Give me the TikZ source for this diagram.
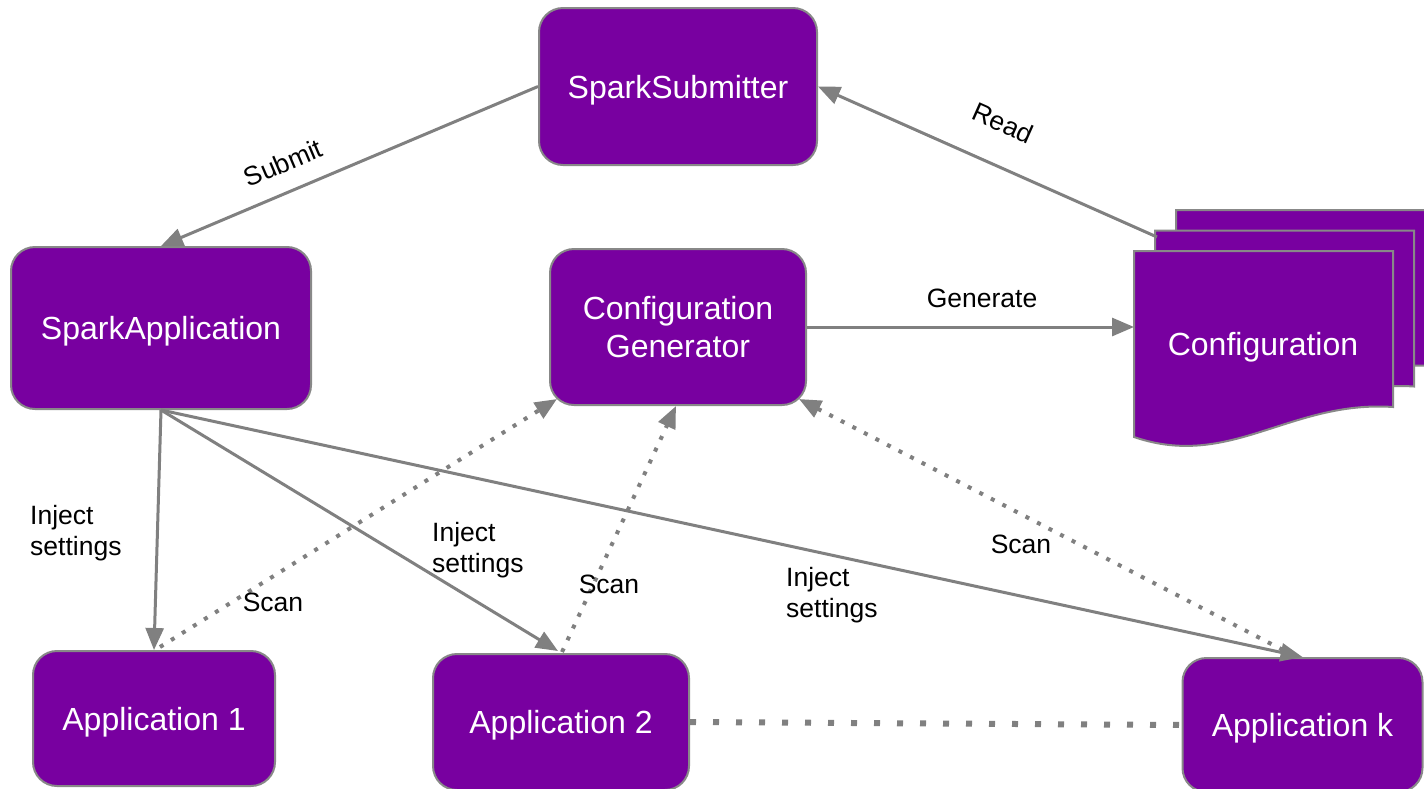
\documentclass[tikz,border=0pt]{standalone}
\usepackage{fontspec}
\setmainfont{Liberation Sans}
\usetikzlibrary{arrows.meta,calc}
\definecolor{pur}{RGB}{120,0,160}
\definecolor{edgegray}{RGB}{128,128,128}
\definecolor{bordergray}{RGB}{136,136,136}
\begin{document}
\begin{tikzpicture}[x=1pt,y=-1pt,
  box/.style={draw=bordergray, line width=2pt, fill=pur, rounded corners=24pt, text=white,
    font=\fontsize{32}{38}\selectfont, align=center, inner sep=0pt, text depth=0pt},
  docsheet/.style={draw=bordergray, line width=2pt, fill=pur},
  lbl/.style={font=\fontsize{26.5}{31}\selectfont, align=left, inner sep=0pt},
  conn/.style={draw=edgegray, line width=3pt, -{Triangle[length=22pt,width=18pt]}},
  scan/.style={draw=edgegray, line width=4pt, dash pattern=on 4pt off 9pt,
    -{Triangle[length=22pt,width=18pt]}},
  link/.style={draw=edgegray, line width=6pt, dash pattern=on 6pt off 17pt}
]
\useasboundingbox (0,0) rectangle (1424,788);
\fill[white] (0,0) rectangle (1424,788);

% Configuration document stack
\foreach \dx/\dy in {42/-41, 21/-20.5, 0/0}{
  \path[docsheet, shift={(\dx,\dy)}] (1134,251) -- (1393,251) -- (1393,407)
    .. controls (1290,400) and (1230,470) .. (1134,437) -- cycle;
}
\node[text=white, font=\fontsize{32}{38}\selectfont, inner sep=0pt, text depth=0pt] (cfg) at (1263,344) {Configuration};
\coordinate (cfgin) at (1134,327);
\coordinate (cfgout) at (1157,237);

% Boxes
\node[box, minimum width=278pt, minimum height=157pt] (ss) at (678,86.5) {SparkSubmitter};
\node[box, minimum width=300pt, minimum height=162pt] (sa) at (161,328) {SparkApplication};
\node[box, minimum width=256pt, minimum height=156pt] (cg) at (678,327) {Configuration\\Generator};
\node[box, minimum width=242pt, minimum height=135pt] (a1) at (154,718.5) {Application 1};
\node[box, minimum width=256pt, minimum height=136pt] (a2) at (561,722) {Application 2};
\node[box, minimum width=240pt, minimum height=134pt] (ak) at (1302.5,725) {Application k};

% Solid connectors
\draw[conn] (ss.west) -- (sa.north);
\draw[conn] (cfgout) -- (ss.east);
\draw[conn] (cg.east) -- (cfgin);
\draw[conn] (sa.south) -- (a1.north);
\draw[conn] (sa.south) -- ($(a2.north)+(-3,-2)$);
\draw[conn] (sa.south) -- (ak.north);

% Scan connectors
\draw[scan] ($(a1.north)+(6,-3)$) -- ($(cg.south west)+(8,-7)$);
\draw[scan] ($(a2.north)+(1,-1)$) -- ($(cg.south)+(-2,0)$);
\draw[scan] ($(ak.north)+(-8,-1)$) -- ($(cg.south east)+(-8,-7)$);

% Link between applications
\draw[link] (a2.east) -- (ak.west);

% Labels
\node[lbl, rotate=23] (lsub) at (283,163) {Submit};
\node[lbl, rotate=-24] (lread) at (1003,123) {Read};
\node[lbl] (lgen) at (982,298) {Generate};
\node[lbl, anchor=west] (linj1) at (30,533) {Inject\\settings};
\node[lbl, anchor=west] (linj2) at (432,550) {Inject\\settings};
\node[lbl, anchor=west] (linj3) at (786,595) {Inject\\settings};
\node[lbl] (lscan1) at (273,602) {Scan};
\node[lbl] (lscan2) at (609,584) {Scan};
\node[lbl] (lscan3) at (1021,544) {Scan};
\end{tikzpicture}
\end{document}
